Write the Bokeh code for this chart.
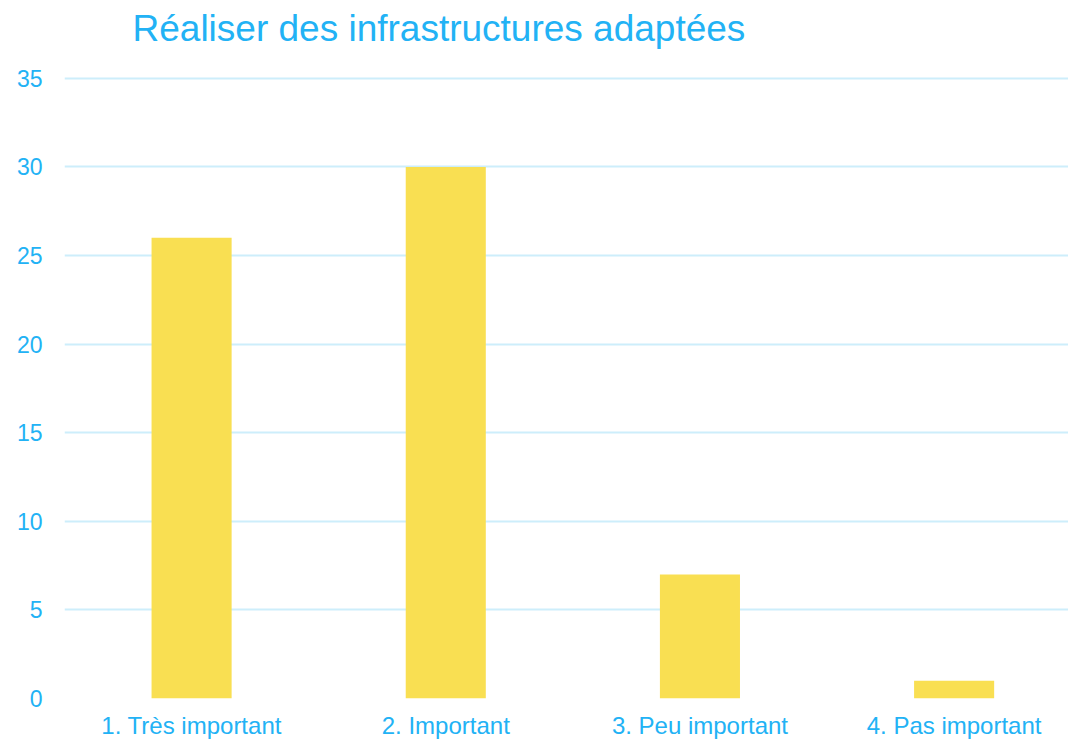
from bokeh.plotting import figure
from bokeh.models import Range1d, FixedTicker, ColumnDataSource, Title
from bokeh.embed import file_html
from bokeh.resources import INLINE

title_text = "Réaliser des infrastructures adaptées"
categories = ["1. Très important", "2. Important", "3. Peu important", "4. Pas important"]
values = [26, 30, 7, 1]
y_ticks = [0, 5, 10, 15, 20, 25, 30, 35]

TEXT = "#22B2F5"
GRID = "#CDEEFB"
BAR = "#F9DF52"
FONT = "Liberation Sans"

xs = list(range(len(categories)))
src = ColumnDataSource(dict(x=xs, top=values))

p = figure(width=1068, height=741, output_backend="svg", toolbar_location=None,
           x_range=Range1d(-0.5, 3.45), y_range=Range1d(0, 35.1),
           min_border_left=64, min_border_right=0, min_border_top=76, min_border_bottom=43)

# spacer nearest the frame, then the visible title above it
p.add_layout(Title(text=" ", text_font_size="23px", standoff=0, text_font=FONT), "above")
p.add_layout(Title(text=title_text, text_color=TEXT, text_font=FONT, text_font_size="37px",
                   text_font_style="normal", align="left", offset=68, standoff=0), "above")

p.vbar(x="x", top="top", width=0.315, bottom=0, source=src, color=BAR, line_color=None)

p.outline_line_color = None
p.background_fill_color = "white"
p.border_fill_color = "white"

p.xgrid.grid_line_color = None
p.ygrid.grid_line_color = GRID
p.ygrid.grid_line_width = 2
p.ygrid.ticker = FixedTicker(ticks=y_ticks)

p.yaxis.ticker = FixedTicker(ticks=y_ticks)
p.xaxis.ticker = FixedTicker(ticks=xs)
p.xaxis.major_label_overrides = {i: c for i, c in enumerate(categories)}

for ax in (p.xaxis, p.yaxis):
    ax.axis_line_color = None
    ax.major_tick_line_color = None
    ax.minor_tick_line_color = None
    ax.major_label_text_color = TEXT
    ax.major_label_text_font = FONT

p.yaxis.major_label_text_font_size = "23px"
p.xaxis.major_label_text_font_size = "24px"
p.yaxis.major_label_standoff = 16
p.xaxis.major_label_standoff = 7

open("out.html", "w").write(file_html(p, INLINE))
